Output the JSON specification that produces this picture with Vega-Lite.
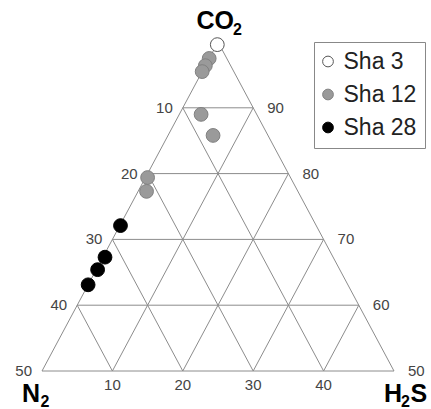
{
  "$schema": "https://vega.github.io/schema/vega-lite/v6.json",
  "width": 352,
  "height": 329,
  "autosize": {"type": "none"},
  "padding": {"left": 42, "top": 42, "right": 37, "bottom": 38},
  "background": "white",
  "config": {"view": {"stroke": null}, "font": "Liberation Sans"},
  "datasets": {
    "grid": [
      {"co2_a": 50, "h2s_a": 0, "co2_b": 50, "h2s_b": 50},
      {"co2_a": 50, "h2s_a": 0, "co2_b": 100, "h2s_b": 0},
      {"co2_a": 50, "h2s_a": 50, "co2_b": 100, "h2s_b": 0},
      {"co2_a": 60, "h2s_a": 0, "co2_b": 60, "h2s_b": 40},
      {"co2_a": 70, "h2s_a": 0, "co2_b": 70, "h2s_b": 30},
      {"co2_a": 80, "h2s_a": 0, "co2_b": 80, "h2s_b": 20},
      {"co2_a": 90, "h2s_a": 0, "co2_b": 90, "h2s_b": 10},
      {"co2_a": 50, "h2s_a": 10, "co2_b": 90, "h2s_b": 10},
      {"co2_a": 50, "h2s_a": 20, "co2_b": 80, "h2s_b": 20},
      {"co2_a": 50, "h2s_a": 30, "co2_b": 70, "h2s_b": 30},
      {"co2_a": 50, "h2s_a": 40, "co2_b": 60, "h2s_b": 40},
      {"co2_a": 50, "h2s_a": 40, "co2_b": 90, "h2s_b": 0},
      {"co2_a": 50, "h2s_a": 30, "co2_b": 80, "h2s_b": 0},
      {"co2_a": 50, "h2s_a": 20, "co2_b": 70, "h2s_b": 0},
      {"co2_a": 50, "h2s_a": 10, "co2_b": 60, "h2s_b": 0}
    ],
    "labels": [
      {"text": "10", "co2": 90, "h2s": 0, "pos": "left"},
      {"text": "20", "co2": 80, "h2s": 0, "pos": "left"},
      {"text": "30", "co2": 70, "h2s": 0, "pos": "left"},
      {"text": "40", "co2": 60, "h2s": 0, "pos": "left"},
      {"text": "50", "co2": 50, "h2s": 0, "pos": "left"},
      {"text": "90", "co2": 90, "h2s": 10, "pos": "right"},
      {"text": "80", "co2": 80, "h2s": 20, "pos": "right"},
      {"text": "70", "co2": 70, "h2s": 30, "pos": "right"},
      {"text": "60", "co2": 60, "h2s": 40, "pos": "right"},
      {"text": "50", "co2": 50, "h2s": 50, "pos": "right"},
      {"text": "10", "co2": 50, "h2s": 10, "pos": "bottom"},
      {"text": "20", "co2": 50, "h2s": 20, "pos": "bottom"},
      {"text": "30", "co2": 50, "h2s": 30, "pos": "bottom"},
      {"text": "40", "co2": 50, "h2s": 40, "pos": "bottom"},
      {"text": "CO", "co2": 100, "h2s": 0, "pos": "co"},
      {"text": "2", "co2": 100, "h2s": 0, "pos": "co_sub"},
      {"text": "N", "co2": 50, "h2s": 0, "pos": "n"},
      {"text": "2", "co2": 50, "h2s": 0, "pos": "n_sub"},
      {"text": "H", "co2": 50, "h2s": 50, "pos": "h"},
      {"text": "2", "co2": 50, "h2s": 50, "pos": "h_sub"},
      {"text": "S", "co2": 50, "h2s": 50, "pos": "s"}
    ],
    "points": [
      {"sample": "Sha 3", "co2": 99.6, "h2s": 0.1, "n2": 0.3},
      {"sample": "Sha 12", "co2": 97.5, "h2s": 0.0, "n2": 2.5},
      {"sample": "Sha 12", "co2": 96.4, "h2s": 0.0, "n2": 3.6},
      {"sample": "Sha 12", "co2": 95.5, "h2s": 0.0, "n2": 4.5},
      {"sample": "Sha 12", "co2": 89.0, "h2s": 3.1, "n2": 7.9},
      {"sample": "Sha 12", "co2": 85.8, "h2s": 6.4, "n2": 7.8},
      {"sample": "Sha 12", "co2": 79.4, "h2s": 0.3, "n2": 20.3},
      {"sample": "Sha 12", "co2": 77.3, "h2s": 1.2, "n2": 21.5},
      {"sample": "Sha 28", "co2": 72.1, "h2s": 0.1, "n2": 27.8},
      {"sample": "Sha 28", "co2": 67.3, "h2s": 0.3, "n2": 32.4},
      {"sample": "Sha 28", "co2": 65.4, "h2s": 0.2, "n2": 34.4},
      {"sample": "Sha 28", "co2": 63.1, "h2s": 0.0, "n2": 36.9}
    ]
  },
  "layer": [
    {
      "data": {"name": "grid"},
      "transform": [
        {"calculate": "datum.h2s_a + (datum.co2_a - 50) / 2", "as": "xa"},
        {"calculate": "datum.h2s_b + (datum.co2_b - 50) / 2", "as": "xb"}
      ],
      "mark": {"type": "rule", "color": "#8c8c8c", "strokeWidth": 1},
      "encoding": {
        "x": {"field": "xa", "type": "quantitative", "scale": {"domain": [0, 50], "nice": false, "zero": false}, "axis": null},
        "x2": {"field": "xb"},
        "y": {"field": "co2_a", "type": "quantitative", "scale": {"domain": [50, 100], "nice": false, "zero": false}, "axis": null},
        "y2": {"field": "co2_b"}
      }
    },
    {
      "data": {"name": "labels"},
      "transform": [{"filter": "datum.pos == 'left'"}, {"calculate": "datum.h2s + (datum.co2 - 50) / 2", "as": "x"}],
      "mark": {"type": "text", "align": "right", "baseline": "middle", "dx": -10, "fontSize": 15, "color": "#444"},
      "encoding": {"x": {"field": "x", "type": "quantitative"}, "y": {"field": "co2", "type": "quantitative"}, "text": {"field": "text"}}
    },
    {
      "data": {"name": "labels"},
      "transform": [{"filter": "datum.pos == 'right'"}, {"calculate": "datum.h2s + (datum.co2 - 50) / 2", "as": "x"}],
      "mark": {"type": "text", "align": "left", "baseline": "middle", "dx": 14, "fontSize": 15, "color": "#444"},
      "encoding": {"x": {"field": "x", "type": "quantitative"}, "y": {"field": "co2", "type": "quantitative"}, "text": {"field": "text"}}
    },
    {
      "data": {"name": "labels"},
      "transform": [{"filter": "datum.pos == 'bottom'"}, {"calculate": "datum.h2s + (datum.co2 - 50) / 2", "as": "x"}],
      "mark": {"type": "text", "align": "center", "baseline": "middle", "dy": 14, "fontSize": 15, "color": "#444"},
      "encoding": {"x": {"field": "x", "type": "quantitative"}, "y": {"field": "co2", "type": "quantitative"}, "text": {"field": "text"}}
    },
    {
      "data": {"name": "labels"},
      "transform": [{"filter": "datum.pos == 'co'"}, {"calculate": "datum.h2s + (datum.co2 - 50) / 2", "as": "x"}],
      "mark": {"type": "text", "align": "right", "baseline": "alphabetic", "dx": 16, "dy": -13.5, "fontSize": 25, "fontWeight": "bold", "color": "#000"},
      "encoding": {"x": {"field": "x", "type": "quantitative"}, "y": {"field": "co2", "type": "quantitative"}, "text": {"field": "text"}}
    },
    {
      "data": {"name": "labels"},
      "transform": [{"filter": "datum.pos == 'co_sub'"}, {"calculate": "datum.h2s + (datum.co2 - 50) / 2", "as": "x"}],
      "mark": {"type": "text", "align": "left", "baseline": "alphabetic", "dx": 15, "dy": -7.5, "fontSize": 16, "fontWeight": "bold", "color": "#000"},
      "encoding": {"x": {"field": "x", "type": "quantitative"}, "y": {"field": "co2", "type": "quantitative"}, "text": {"field": "text"}}
    },
    {
      "data": {"name": "labels"},
      "transform": [{"filter": "datum.pos == 'n'"}, {"calculate": "datum.h2s + (datum.co2 - 50) / 2", "as": "x"}],
      "mark": {"type": "text", "align": "right", "baseline": "alphabetic", "dx": -2, "dy": 31, "fontSize": 25, "fontWeight": "bold", "color": "#000"},
      "encoding": {"x": {"field": "x", "type": "quantitative"}, "y": {"field": "co2", "type": "quantitative"}, "text": {"field": "text"}}
    },
    {
      "data": {"name": "labels"},
      "transform": [{"filter": "datum.pos == 'n_sub'"}, {"calculate": "datum.h2s + (datum.co2 - 50) / 2", "as": "x"}],
      "mark": {"type": "text", "align": "left", "baseline": "alphabetic", "dx": -1.5, "dy": 36, "fontSize": 16, "fontWeight": "bold", "color": "#000"},
      "encoding": {"x": {"field": "x", "type": "quantitative"}, "y": {"field": "co2", "type": "quantitative"}, "text": {"field": "text"}}
    },
    {
      "data": {"name": "labels"},
      "transform": [{"filter": "datum.pos == 'h'"}, {"calculate": "datum.h2s + (datum.co2 - 50) / 2", "as": "x"}],
      "mark": {"type": "text", "align": "right", "baseline": "alphabetic", "dx": 8, "dy": 31, "fontSize": 25, "fontWeight": "bold", "color": "#000"},
      "encoding": {"x": {"field": "x", "type": "quantitative"}, "y": {"field": "co2", "type": "quantitative"}, "text": {"field": "text"}}
    },
    {
      "data": {"name": "labels"},
      "transform": [{"filter": "datum.pos == 'h_sub'"}, {"calculate": "datum.h2s + (datum.co2 - 50) / 2", "as": "x"}],
      "mark": {"type": "text", "align": "left", "baseline": "alphabetic", "dx": 7, "dy": 36, "fontSize": 16, "fontWeight": "bold", "color": "#000"},
      "encoding": {"x": {"field": "x", "type": "quantitative"}, "y": {"field": "co2", "type": "quantitative"}, "text": {"field": "text"}}
    },
    {
      "data": {"name": "labels"},
      "transform": [{"filter": "datum.pos == 's'"}, {"calculate": "datum.h2s + (datum.co2 - 50) / 2", "as": "x"}],
      "mark": {"type": "text", "align": "left", "baseline": "alphabetic", "dx": 16.5, "dy": 31, "fontSize": 25, "fontWeight": "bold", "color": "#000"},
      "encoding": {"x": {"field": "x", "type": "quantitative"}, "y": {"field": "co2", "type": "quantitative"}, "text": {"field": "text"}}
    },
    {
      "data": {"name": "points"},
      "transform": [{"calculate": "datum.h2s + (datum.co2 - 50) / 2", "as": "x"}],
      "mark": {"type": "circle", "size": 190, "opacity": 1, "strokeWidth": 1},
      "encoding": {
        "x": {"field": "x", "type": "quantitative"},
        "y": {"field": "co2", "type": "quantitative"},
        "color": {
          "field": "sample", "type": "nominal",
          "scale": {"domain": ["Sha 3", "Sha 12", "Sha 28"], "range": ["#ffffff", "#9a9a9a", "#000000"]},
          "legend": {"orient": "none", "legendX": 272, "legendY": 0, "title": null, "strokeColor": "#888", "padding": 8, "labelFontSize": 23, "labelColor": "#222", "labelFont": "Liberation Sans", "symbolSize": 115, "symbolStrokeWidth": 1, "symbolOffset": -5.5, "rowPadding": 9, "labelOffset": 4, "fillColor": "white"}
        },
        "stroke": {
          "field": "sample", "type": "nominal",
          "scale": {"domain": ["Sha 3", "Sha 12", "Sha 28"], "range": ["#555555", "#808080", "#000000"]},
          "legend": {"orient": "none", "legendX": 272, "legendY": 0, "title": null, "strokeColor": "#888", "padding": 8, "labelFontSize": 23, "labelColor": "#222", "labelFont": "Liberation Sans", "symbolSize": 115, "symbolStrokeWidth": 1, "symbolOffset": -5.5, "rowPadding": 9, "labelOffset": 4, "fillColor": "white"}
        }
      }
    }
  ]
}
